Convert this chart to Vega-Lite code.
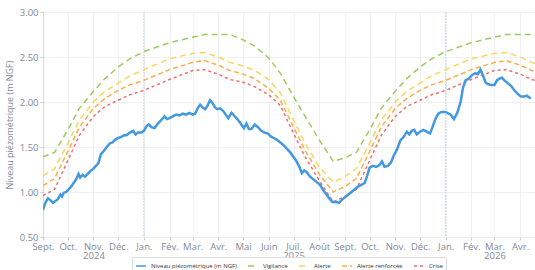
{
  "$schema": "https://vega.github.io/schema/vega-lite/v6.json",
  "autosize": {"type": "none"},
  "padding": {"left": 43, "top": 12, "right": 0, "bottom": 34},
  "width": 492,
  "height": 225,
  "background": "white",
  "config": {
    "font": "Open Sans",
    "view": {"stroke": null},
    "axis": {
      "labelColor": "#7f8a9a",
      "titleColor": "#7f8a9a",
      "gridColor": "#eef0f3",
      "domainColor": "#d5d9e0",
      "tickColor": "#c8cdd5",
      "labelFontSize": 9.5,
      "titleFontWeight": "normal",
      "titleFontSize": 9
    }
  },
  "datasets": {
    "seuils": [
      {"date": "2024-09-01", "Vigilance": 1.39, "Alerte": 1.18, "Alerte renforcée": 1.07, "Crise": 0.96},
      {"date": "2024-09-15", "Vigilance": 1.44, "Alerte": 1.26, "Alerte renforcée": 1.15, "Crise": 1.03},
      {"date": "2024-10-01", "Vigilance": 1.69, "Alerte": 1.54, "Alerte renforcée": 1.45, "Crise": 1.35},
      {"date": "2024-10-15", "Vigilance": 1.93, "Alerte": 1.80, "Alerte renforcée": 1.72, "Crise": 1.63},
      {"date": "2024-11-01", "Vigilance": 2.12, "Alerte": 2.00, "Alerte renforcée": 1.93, "Crise": 1.84},
      {"date": "2024-11-15", "Vigilance": 2.26, "Alerte": 2.12, "Alerte renforcée": 2.04, "Crise": 1.95},
      {"date": "2024-12-01", "Vigilance": 2.39, "Alerte": 2.21, "Alerte renforcée": 2.13, "Crise": 2.02},
      {"date": "2024-12-15", "Vigilance": 2.48, "Alerte": 2.29, "Alerte renforcée": 2.19, "Crise": 2.08},
      {"date": "2025-01-01", "Vigilance": 2.56, "Alerte": 2.36, "Alerte renforcée": 2.24, "Crise": 2.13},
      {"date": "2025-02-01", "Vigilance": 2.66, "Alerte": 2.48, "Alerte renforcée": 2.36, "Crise": 2.25},
      {"date": "2025-03-01", "Vigilance": 2.72, "Alerte": 2.54, "Alerte renforcée": 2.44, "Crise": 2.35},
      {"date": "2025-03-15", "Vigilance": 2.75, "Alerte": 2.55, "Alerte renforcée": 2.46, "Crise": 2.36},
      {"date": "2025-04-01", "Vigilance": 2.75, "Alerte": 2.50, "Alerte renforcée": 2.41, "Crise": 2.31},
      {"date": "2025-04-15", "Vigilance": 2.75, "Alerte": 2.44, "Alerte renforcée": 2.35, "Crise": 2.25},
      {"date": "2025-05-01", "Vigilance": 2.69, "Alerte": 2.40, "Alerte renforcée": 2.31, "Crise": 2.22},
      {"date": "2025-05-15", "Vigilance": 2.62, "Alerte": 2.35, "Alerte renforcée": 2.26, "Crise": 2.17},
      {"date": "2025-06-01", "Vigilance": 2.49, "Alerte": 2.25, "Alerte renforcée": 2.15, "Crise": 2.08},
      {"date": "2025-06-15", "Vigilance": 2.32, "Alerte": 2.10, "Alerte renforcée": 2.02, "Crise": 1.96},
      {"date": "2025-07-01", "Vigilance": 2.06, "Alerte": 1.80, "Alerte renforcée": 1.72, "Crise": 1.65},
      {"date": "2025-07-15", "Vigilance": 1.84, "Alerte": 1.54, "Alerte renforcée": 1.46, "Crise": 1.39},
      {"date": "2025-08-01", "Vigilance": 1.58, "Alerte": 1.28, "Alerte renforcée": 1.20, "Crise": 1.13},
      {"date": "2025-08-18", "Vigilance": 1.34, "Alerte": 1.11, "Alerte renforcée": 1.00, "Crise": 0.89},
      {"date": "2025-09-01", "Vigilance": 1.38, "Alerte": 1.17, "Alerte renforcée": 1.06, "Crise": 0.95},
      {"date": "2025-09-15", "Vigilance": 1.44, "Alerte": 1.26, "Alerte renforcée": 1.15, "Crise": 1.03},
      {"date": "2025-10-01", "Vigilance": 1.69, "Alerte": 1.54, "Alerte renforcée": 1.45, "Crise": 1.35},
      {"date": "2025-10-15", "Vigilance": 1.93, "Alerte": 1.80, "Alerte renforcée": 1.72, "Crise": 1.63},
      {"date": "2025-11-01", "Vigilance": 2.12, "Alerte": 2.00, "Alerte renforcée": 1.93, "Crise": 1.84},
      {"date": "2025-11-15", "Vigilance": 2.26, "Alerte": 2.12, "Alerte renforcée": 2.04, "Crise": 1.95},
      {"date": "2025-12-01", "Vigilance": 2.39, "Alerte": 2.21, "Alerte renforcée": 2.13, "Crise": 2.02},
      {"date": "2025-12-15", "Vigilance": 2.48, "Alerte": 2.29, "Alerte renforcée": 2.19, "Crise": 2.08},
      {"date": "2026-01-01", "Vigilance": 2.56, "Alerte": 2.36, "Alerte renforcée": 2.24, "Crise": 2.13},
      {"date": "2026-02-01", "Vigilance": 2.66, "Alerte": 2.48, "Alerte renforcée": 2.36, "Crise": 2.25},
      {"date": "2026-03-01", "Vigilance": 2.72, "Alerte": 2.54, "Alerte renforcée": 2.44, "Crise": 2.35},
      {"date": "2026-03-15", "Vigilance": 2.75, "Alerte": 2.55, "Alerte renforcée": 2.46, "Crise": 2.36},
      {"date": "2026-04-01", "Vigilance": 2.75, "Alerte": 2.50, "Alerte renforcée": 2.41, "Crise": 2.31},
      {"date": "2026-04-15", "Vigilance": 2.75, "Alerte": 2.44, "Alerte renforcée": 2.35, "Crise": 2.25},
      {"date": "2026-04-19", "Vigilance": 2.74, "Alerte": 2.43, "Alerte renforcée": 2.34, "Crise": 2.24}
    ],
    "niveau": [
      {"date": "2024-09-01", "value": 0.80}, {"date": "2024-09-03", "value": 0.86}, {"date": "2024-09-05", "value": 0.90},
      {"date": "2024-09-07", "value": 0.93}, {"date": "2024-09-10", "value": 0.91}, {"date": "2024-09-13", "value": 0.88},
      {"date": "2024-09-16", "value": 0.90}, {"date": "2024-09-19", "value": 0.92}, {"date": "2024-09-22", "value": 0.97},
      {"date": "2024-09-24", "value": 0.95}, {"date": "2024-09-26", "value": 0.99}, {"date": "2024-09-29", "value": 1.00},
      {"date": "2024-10-02", "value": 1.03}, {"date": "2024-10-05", "value": 1.06}, {"date": "2024-10-08", "value": 1.10},
      {"date": "2024-10-11", "value": 1.14}, {"date": "2024-10-14", "value": 1.20}, {"date": "2024-10-16", "value": 1.16},
      {"date": "2024-10-19", "value": 1.19}, {"date": "2024-10-22", "value": 1.17}, {"date": "2024-10-25", "value": 1.20},
      {"date": "2024-10-28", "value": 1.23}, {"date": "2024-11-01", "value": 1.26}, {"date": "2024-11-04", "value": 1.29},
      {"date": "2024-11-07", "value": 1.32}, {"date": "2024-11-10", "value": 1.42}, {"date": "2024-11-13", "value": 1.45},
      {"date": "2024-11-17", "value": 1.50}, {"date": "2024-11-21", "value": 1.54}, {"date": "2024-11-24", "value": 1.55},
      {"date": "2024-11-27", "value": 1.58}, {"date": "2024-12-01", "value": 1.60}, {"date": "2024-12-04", "value": 1.61},
      {"date": "2024-12-08", "value": 1.63}, {"date": "2024-12-11", "value": 1.63}, {"date": "2024-12-15", "value": 1.66},
      {"date": "2024-12-19", "value": 1.68}, {"date": "2024-12-22", "value": 1.64}, {"date": "2024-12-25", "value": 1.66},
      {"date": "2024-12-29", "value": 1.66}, {"date": "2025-01-01", "value": 1.68}, {"date": "2025-01-04", "value": 1.73},
      {"date": "2025-01-07", "value": 1.75}, {"date": "2025-01-10", "value": 1.72}, {"date": "2025-01-14", "value": 1.71},
      {"date": "2025-01-18", "value": 1.76}, {"date": "2025-01-22", "value": 1.80}, {"date": "2025-01-26", "value": 1.84},
      {"date": "2025-01-29", "value": 1.81}, {"date": "2025-02-01", "value": 1.82}, {"date": "2025-02-05", "value": 1.84},
      {"date": "2025-02-09", "value": 1.86}, {"date": "2025-02-13", "value": 1.85}, {"date": "2025-02-17", "value": 1.87},
      {"date": "2025-02-21", "value": 1.86}, {"date": "2025-02-25", "value": 1.88}, {"date": "2025-03-01", "value": 1.86},
      {"date": "2025-03-04", "value": 1.87}, {"date": "2025-03-07", "value": 1.93}, {"date": "2025-03-10", "value": 1.97},
      {"date": "2025-03-13", "value": 1.94}, {"date": "2025-03-16", "value": 1.92}, {"date": "2025-03-19", "value": 1.96},
      {"date": "2025-03-22", "value": 2.02}, {"date": "2025-03-25", "value": 1.99}, {"date": "2025-03-28", "value": 1.94},
      {"date": "2025-03-31", "value": 1.92}, {"date": "2025-04-03", "value": 1.93}, {"date": "2025-04-07", "value": 1.90},
      {"date": "2025-04-10", "value": 1.86}, {"date": "2025-04-13", "value": 1.82}, {"date": "2025-04-17", "value": 1.88},
      {"date": "2025-04-20", "value": 1.85}, {"date": "2025-04-24", "value": 1.81}, {"date": "2025-04-28", "value": 1.76},
      {"date": "2025-05-02", "value": 1.71}, {"date": "2025-05-05", "value": 1.76}, {"date": "2025-05-08", "value": 1.70},
      {"date": "2025-05-11", "value": 1.70}, {"date": "2025-05-15", "value": 1.75}, {"date": "2025-05-19", "value": 1.72},
      {"date": "2025-05-23", "value": 1.68}, {"date": "2025-05-27", "value": 1.66}, {"date": "2025-05-31", "value": 1.65},
      {"date": "2025-06-03", "value": 1.62}, {"date": "2025-06-07", "value": 1.60}, {"date": "2025-06-11", "value": 1.58},
      {"date": "2025-06-15", "value": 1.55}, {"date": "2025-06-19", "value": 1.52}, {"date": "2025-06-23", "value": 1.48},
      {"date": "2025-06-27", "value": 1.44}, {"date": "2025-07-01", "value": 1.39}, {"date": "2025-07-04", "value": 1.35},
      {"date": "2025-07-08", "value": 1.28}, {"date": "2025-07-11", "value": 1.21}, {"date": "2025-07-14", "value": 1.24},
      {"date": "2025-07-17", "value": 1.22}, {"date": "2025-07-21", "value": 1.17}, {"date": "2025-07-25", "value": 1.14},
      {"date": "2025-07-29", "value": 1.11}, {"date": "2025-08-02", "value": 1.08}, {"date": "2025-08-06", "value": 1.02},
      {"date": "2025-08-10", "value": 0.97}, {"date": "2025-08-14", "value": 0.92}, {"date": "2025-08-17", "value": 0.89},
      {"date": "2025-08-21", "value": 0.89}, {"date": "2025-08-25", "value": 0.88}, {"date": "2025-08-28", "value": 0.91},
      {"date": "2025-09-01", "value": 0.94}, {"date": "2025-09-05", "value": 0.97}, {"date": "2025-09-09", "value": 1.00},
      {"date": "2025-09-13", "value": 1.03}, {"date": "2025-09-17", "value": 1.06}, {"date": "2025-09-21", "value": 1.08},
      {"date": "2025-09-25", "value": 1.10}, {"date": "2025-09-28", "value": 1.18}, {"date": "2025-10-01", "value": 1.27},
      {"date": "2025-10-05", "value": 1.29}, {"date": "2025-10-09", "value": 1.28}, {"date": "2025-10-13", "value": 1.30},
      {"date": "2025-10-16", "value": 1.34}, {"date": "2025-10-19", "value": 1.28}, {"date": "2025-10-23", "value": 1.29},
      {"date": "2025-10-27", "value": 1.33}, {"date": "2025-10-30", "value": 1.40}, {"date": "2025-11-03", "value": 1.47},
      {"date": "2025-11-07", "value": 1.57}, {"date": "2025-11-11", "value": 1.61}, {"date": "2025-11-15", "value": 1.67},
      {"date": "2025-11-18", "value": 1.64}, {"date": "2025-11-21", "value": 1.68}, {"date": "2025-11-24", "value": 1.69},
      {"date": "2025-11-27", "value": 1.64}, {"date": "2025-12-01", "value": 1.67}, {"date": "2025-12-05", "value": 1.69},
      {"date": "2025-12-09", "value": 1.67}, {"date": "2025-12-13", "value": 1.65}, {"date": "2025-12-16", "value": 1.72},
      {"date": "2025-12-19", "value": 1.80}, {"date": "2025-12-23", "value": 1.87}, {"date": "2025-12-27", "value": 1.89},
      {"date": "2025-12-31", "value": 1.89}, {"date": "2026-01-03", "value": 1.88}, {"date": "2026-01-07", "value": 1.86},
      {"date": "2026-01-11", "value": 1.81}, {"date": "2026-01-15", "value": 1.88}, {"date": "2026-01-19", "value": 2.00},
      {"date": "2026-01-22", "value": 2.16}, {"date": "2026-01-25", "value": 2.24}, {"date": "2026-01-29", "value": 2.26},
      {"date": "2026-02-02", "value": 2.30}, {"date": "2026-02-06", "value": 2.32}, {"date": "2026-02-09", "value": 2.31},
      {"date": "2026-02-12", "value": 2.36}, {"date": "2026-02-15", "value": 2.30}, {"date": "2026-02-18", "value": 2.22},
      {"date": "2026-02-21", "value": 2.20}, {"date": "2026-02-25", "value": 2.19}, {"date": "2026-03-01", "value": 2.19},
      {"date": "2026-03-04", "value": 2.24}, {"date": "2026-03-07", "value": 2.26}, {"date": "2026-03-10", "value": 2.27},
      {"date": "2026-03-13", "value": 2.24}, {"date": "2026-03-17", "value": 2.21}, {"date": "2026-03-21", "value": 2.18},
      {"date": "2026-03-25", "value": 2.13}, {"date": "2026-03-29", "value": 2.09}, {"date": "2026-04-02", "value": 2.06},
      {"date": "2026-04-06", "value": 2.06}, {"date": "2026-04-09", "value": 2.07}, {"date": "2026-04-12", "value": 2.05},
      {"date": "2026-04-14", "value": 2.04}
    ],
    "annees": [{"date": "2025-01-01"}, {"date": "2026-01-01"}]
  },
  "encoding": {
    "x": {
      "field": "date",
      "type": "temporal",
      "scale": {"type": "utc", "domain": ["2024-09-01", "2026-04-19"]},
      "axis": {
        "title": null,
        "tickCount": {"interval": "month", "step": 1},
        "labelExpr": "[['Jan.','Fév.','Mar.','Avr.','Mai','Juin','Juil.','Août','Sept.','Oct.','Nov.','Déc.'][utcmonth(datum.value)], (utcmonth(datum.value)==10 && utcyear(datum.value)==2024) ? '2024' : (utcmonth(datum.value)==6 && utcyear(datum.value)==2025) ? '2025' : (utcmonth(datum.value)==2 && utcyear(datum.value)==2026) ? '2026' : '']",
        "labelLineHeight": 9,
        "labelBaseline": "top",
        "labelPadding": 1,
        "tickSize": 3,
        "domain": false,
        "labelOverlap": false,
        "labelFlush": false
      }
    }
  },
  "layer": [
    {
      "data": {"name": "annees"},
      "mark": {"type": "rule", "color": "#c3d4ee", "strokeWidth": 1, "strokeDash": [2, 1]},
      "encoding": {}
    },
    {
      "data": {"name": "seuils"},
      "transform": [
        {"fold": ["Vigilance", "Alerte", "Alerte renforcée", "Crise"], "as": ["serie", "value"]}
      ],
      "mark": {"type": "line", "clip": true},
      "encoding": {
        "y": {
          "field": "value",
          "type": "quantitative",
          "scale": {"domain": [0.5, 3.0], "nice": false, "zero": false},
          "axis": {
            "title": "Niveau piézométrique (m NGF)",
            "values": [0.5, 1.0, 1.5, 2.0, 2.5, 3.0],
            "format": ".2f",
            "tickSize": 3,
            "labelPadding": 2,
            "titlePadding": 5
          }
        },
        "color": {
          "field": "serie",
          "type": "nominal",
          "scale": {
            "domain": ["Niveau piézométrique (m NGF)", "Vigilance", "Alerte", "Alerte renforcée", "Crise"],
            "range": ["#4299e1", "#9ccb5e", "#fdd45e", "#fbb046", "#f46c6c"]
          },
          "legend": {
            "title": null,
            "orient": "none",
            "direction": "horizontal",
            "columns": 5,
            "legendX": 89,
            "legendY": 245,
            "labelFontSize": 6,
            "labelColor": "#333",
            "symbolType": "stroke",
            "symbolSize": 100,
            "symbolStrokeWidth": 1.5,
            "labelOffset": 4,
            "columnPadding": 8,
            "rowPadding": 0,
            "padding": 3,
            "strokeColor": "#dddddd",
            "fillColor": "white",
            "labelLimit": 200
          }
        },
        "strokeDash": {
          "field": "serie",
          "type": "nominal",
          "scale": {
            "domain": ["Niveau piézométrique (m NGF)", "Vigilance", "Alerte", "Alerte renforcée", "Crise"],
            "range": [[1, 0], [6, 4], [6, 4], [5, 3], [3, 3]]
          },
          "legend": null
        },
        "strokeWidth": {"value": 1.5}
      }
    },
    {
      "data": {"name": "niveau"},
      "transform": [{"calculate": "'Niveau piézométrique (m NGF)'", "as": "serie"}],
      "mark": {"type": "line", "strokeWidth": 2.5, "clip": true},
      "encoding": {
        "y": {"field": "value", "type": "quantitative"},
        "color": {"field": "serie", "type": "nominal"}
      }
    }
  ]
}
